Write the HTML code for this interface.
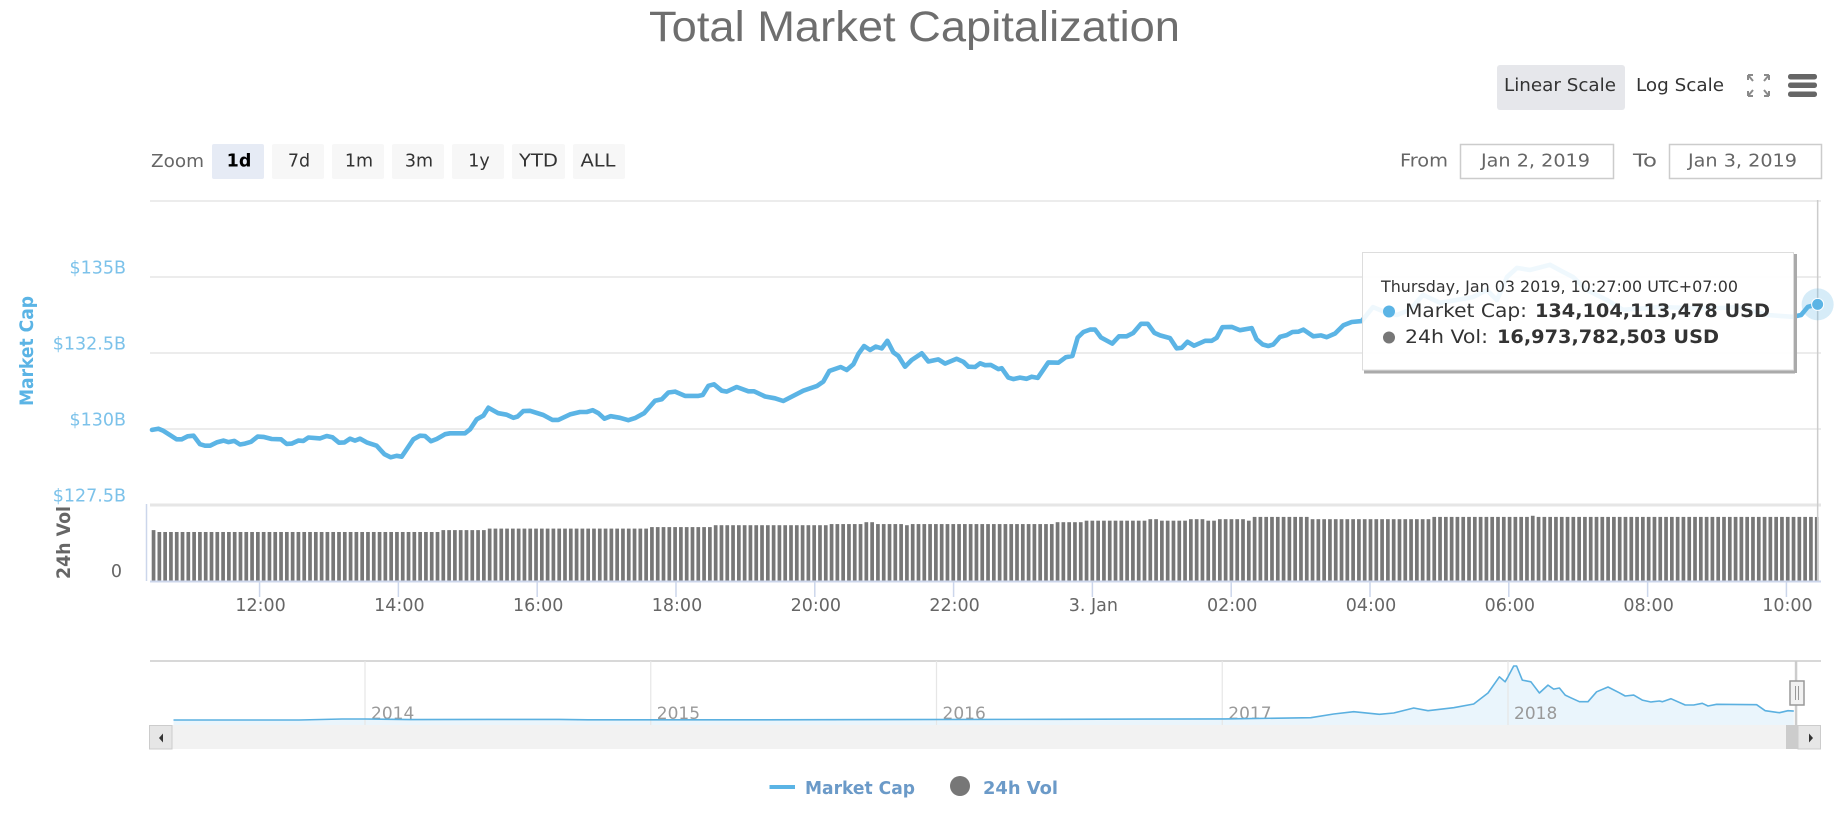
<!DOCTYPE html>
<html lang="en">
<head>
<meta charset="utf-8">
<title>Total Market Capitalization</title>
<style>
  html,body{margin:0;padding:0;background:#fff;}
  body{width:1844px;height:813px;overflow:hidden;}
  svg{display:block;font-family:"DejaVu Sans","Liberation Sans",sans-serif;}
  text{white-space:pre;}
</style>
</head>
<body>
<svg id="chart" xmlns="http://www.w3.org/2000/svg" width="1844" height="813" viewBox="0 0 1844 813">
  <text x="649" y="41" font-family="Liberation Sans, sans-serif" font-size="43" fill="#6e6e6e" textLength="531" lengthAdjust="spacingAndGlyphs">Total Market Capitalization</text>

  <g>
    <rect x="1497" y="65" width="128" height="45" rx="3" fill="#e6e7eb"/>
    <text x="1504" y="91" font-size="17.5" fill="#333333" textLength="112" lengthAdjust="spacingAndGlyphs">Linear Scale</text>
    <text x="1636" y="91" font-size="17.5" fill="#333333" textLength="88" lengthAdjust="spacingAndGlyphs">Log Scale</text>
    <g fill="none" stroke="#8a8a8a" stroke-width="2">
      <path d="M1748 75 L1753 81 M1748 75 h5 M1748 75 v5"/>
      <path d="M1769 75 L1764 81 M1769 75 h-5 M1769 75 v5"/>
      <path d="M1748 96 L1753 90 M1748 96 h5 M1748 96 v-5"/>
      <path d="M1769 96 L1764 90 M1769 96 h-5 M1769 96 v-5"/>
    </g>
    <g fill="#666666">
      <rect x="1788" y="74" width="29" height="5.5" rx="2.5"/>
      <rect x="1788" y="82.5" width="29" height="5.5" rx="2.5"/>
      <rect x="1788" y="91.5" width="29" height="5.5" rx="2.5"/>
    </g>
  </g>

  <g font-size="17.5">
    <text x="151" y="167" fill="#666666" textLength="53" lengthAdjust="spacingAndGlyphs">Zoom</text>
    <rect x="212" y="144" width="52" height="35" rx="2" fill="#e6ebf5"/>
    <text x="239" y="166.5" text-anchor="middle" font-weight="bold" fill="#000000">1d</text>
    <rect x="272" y="144" width="52" height="35" rx="2" fill="#f7f7f7"/>
    <text x="299" y="166.5" text-anchor="middle" fill="#333333">7d</text>
    <rect x="332" y="144" width="52" height="35" rx="2" fill="#f7f7f7"/>
    <text x="359" y="166.5" text-anchor="middle" fill="#333333">1m</text>
    <rect x="392" y="144" width="52" height="35" rx="2" fill="#f7f7f7"/>
    <text x="419" y="166.5" text-anchor="middle" fill="#333333">3m</text>
    <rect x="452" y="144" width="52" height="35" rx="2" fill="#f7f7f7"/>
    <text x="479" y="166.5" text-anchor="middle" fill="#333333">1y</text>
    <rect x="512" y="144" width="53" height="35" rx="2" fill="#f7f7f7"/>
    <text x="538.5" y="166.5" text-anchor="middle" fill="#333333" textLength="39" lengthAdjust="spacingAndGlyphs">YTD</text>
    <rect x="573" y="144" width="52" height="35" rx="2" fill="#f7f7f7"/>
    <text x="598" y="166.5" text-anchor="middle" fill="#333333" textLength="35" lengthAdjust="spacingAndGlyphs">ALL</text>

    <text x="1400" y="166.5" fill="#666666" textLength="48" lengthAdjust="spacingAndGlyphs">From</text>
    <rect x="1460.5" y="144.5" width="153" height="34" fill="#ffffff" stroke="#cccccc" stroke-width="1.5"/>
    <text x="1481" y="166.5" fill="#666666" textLength="109" lengthAdjust="spacingAndGlyphs">Jan 2, 2019</text>
    <text x="1633" y="166.5" fill="#666666" textLength="24" lengthAdjust="spacingAndGlyphs">To</text>
    <rect x="1669.5" y="144.5" width="152" height="34" fill="#ffffff" stroke="#cccccc" stroke-width="1.5"/>
    <text x="1688" y="166.5" fill="#666666" textLength="109" lengthAdjust="spacingAndGlyphs">Jan 3, 2019</text>
  </g>

  <g id="grid-layer"></g>
  <g id="volume-layer"></g>
  <g id="xaxis-layer"></g>
  <g id="line-layer"></g>

  <text transform="translate(33,406) rotate(-90)" font-size="19" font-weight="bold" fill="#5bb4e5" textLength="110" lengthAdjust="spacingAndGlyphs">Market Cap</text>
  <text transform="translate(70,579) rotate(-90)" font-size="19" font-weight="bold" fill="#666666" textLength="73" lengthAdjust="spacingAndGlyphs">24h Vol</text>

  <g id="navigator-layer"></g>

  <g>
    <rect x="149" y="725" width="1672" height="24" fill="#f2f2f2"/>
    <rect x="149.5" y="725.5" width="22.5" height="23.5" fill="#e6e6e6" stroke="#cccccc"/>
    <path d="M159 738 L163 733.5 V742.5 Z" fill="#333333"/>
    <rect x="1786" y="725" width="12" height="24" fill="#cccccc"/>
    <rect x="1798" y="725.5" width="22.5" height="23.5" fill="#e6e6e6" stroke="#cccccc"/>
    <path d="M1813 738 L1809 733.5 V742.5 Z" fill="#333333"/>
  </g>

  <g>
    <rect x="1794.8" y="661" width="2.5" height="64" fill="#cccccc"/>
    <rect x="1790" y="681" width="14" height="24" fill="#f2f2f2" stroke="#999999" stroke-width="1.5"/>
    <path d="M1795.5 686 V700 M1798.5 686 V700" stroke="#999999" stroke-width="1" fill="none"/>
  </g>

  <g>
    <line x1="769.5" y1="787" x2="795" y2="787" stroke="#5bb4e5" stroke-width="4"/>
    <text x="805" y="794" font-size="18" font-weight="bold" fill="#6b9ac8" textLength="110" lengthAdjust="spacingAndGlyphs">Market Cap</text>
    <circle cx="960" cy="786" r="10" fill="#777777"/>
    <text x="983" y="794" font-size="18" font-weight="bold" fill="#6b9ac8" textLength="75" lengthAdjust="spacingAndGlyphs">24h Vol</text>
  </g>

  <g>
    <rect x="1794" y="254" width="3" height="119" fill="#aaaaaa"/>
    <rect x="1364" y="370.5" width="431" height="3" fill="#aaaaaa"/>
    <rect x="1362.5" y="252.5" width="431" height="117.5" fill="#ffffff" fill-opacity="0.9" stroke="#dddddd" stroke-width="1"/>
    <text x="1381" y="292" font-size="16" fill="#333333" textLength="357" lengthAdjust="spacingAndGlyphs">Thursday, Jan 03 2019, 10:27:00 UTC+07:00</text>
    <circle cx="1389" cy="311.5" r="6" fill="#5bb4e5"/>
    <text x="1405" y="317" font-size="19" fill="#333333" textLength="122" lengthAdjust="spacingAndGlyphs">Market Cap:</text>
    <text x="1535" y="317" font-size="19" font-weight="bold" fill="#333333" textLength="235" lengthAdjust="spacingAndGlyphs">134,104,113,478 USD</text>
    <circle cx="1389" cy="337.5" r="6" fill="#777777"/>
    <text x="1405" y="343" font-size="19" fill="#333333" textLength="83" lengthAdjust="spacingAndGlyphs">24h Vol:</text>
    <text x="1497" y="343" font-size="19" font-weight="bold" fill="#333333" textLength="222" lengthAdjust="spacingAndGlyphs">16,973,782,503 USD</text>
  </g>
</svg>

<script>
// ---- data ----
var priceTickValues = [127.5, 130, 132.5, 135, 137.5];
var priceTickLabels = ["$127.5B", "$130B", "$132.5B", "$135B", ""];

var timeTickMinutes = [93, 213, 333, 453, 573, 693, 813, 933, 1053, 1173, 1293, 1413];
var timeTickLabels = ["12:00", "14:00", "16:00", "18:00", "20:00", "22:00", "3. Jan", "02:00", "04:00", "06:00", "08:00", "10:00"];

// minutes since 10:27 on Jan 2
var capMinutes = [0,5.5,9.8,15.6,21.3,25.7,30.8,36,41.5,45.8,50.2,55.9,61.7,66,71.2,76.1,80.4,85.6,91.4,96.3,103.5,111.5,116.4,120.8,126.5,130.8,135.2,145.3,151,155.9,161.7,166.3,171.2,175.5,179.8,185.6,194.2,200.9,206.4,211.5,215.9,226,231.7,236,241.2,246.1,253.3,257.6,270.6,275,280.7,286.5,290.8,299.4,306.6,312.4,316.1,321,326.8,338.3,346.1,351.3,361.4,370,375.8,381,385.9,391.1,396.6,404.6,411.8,417.6,425.4,434.9,440.7,446.4,452.2,460.8,472.4,476.1,481,485.9,492.5,496.9,505.5,515.6,520.5,530,538.6,545.8,563.1,574.7,580.4,585.6,595.4,600.6,606.4,610.7,615.6,620.8,625.7,630.9,635.8,641,645.3,651,656.8,665.5,671.2,679.9,685.6,695.7,701.5,705.8,711.6,715.9,720.2,725.1,731.7,734.6,740.3,744.6,750.4,756.2,760.5,765.7,774.9,783.6,789.9,795.7,800.3,805.2,810.9,815.3,820.4,830.2,836,842.6,848.4,855,860.8,866.6,871.5,880.1,885.9,890.2,895.1,900.9,910.4,916.1,920.5,925.4,933.4,940.6,950.7,955,960.2,965.1,969.4,975.2,981,985.9,991,995.4,1004,1010.7,1015.6,1022.8,1030,1037.2,1045.8,1055.6,1065.9,1076.3,1087.5,1098.8,1113.5,1142,1154.1,1162.8,1171.4,1180,1191.2,1208.6,1219.8,1228.5,1240.6,1257.9,1271.7,1303.7,1329.6,1355.5,1372.8,1396.2,1418.7,1425.7,1431.6,1440];

// market cap, $ billions
var capValues = [129.97,130.01,129.94,129.80,129.66,129.66,129.76,129.78,129.50,129.45,129.45,129.56,129.62,129.57,129.61,129.49,129.52,129.58,129.75,129.74,129.67,129.66,129.51,129.52,129.62,129.61,129.72,129.69,129.77,129.73,129.55,129.56,129.68,129.62,129.68,129.56,129.45,129.17,129.07,129.12,129.09,129.66,129.78,129.77,129.60,129.67,129.83,129.86,129.86,129.99,130.32,130.44,130.70,130.52,130.47,130.37,130.41,130.59,130.60,130.46,130.30,130.30,130.48,130.56,130.56,130.62,130.52,130.34,130.42,130.37,130.29,130.36,130.52,130.93,130.98,131.20,131.23,131.09,131.09,131.12,131.42,131.47,131.26,131.23,131.38,131.24,131.24,131.07,131.01,130.92,131.26,131.41,131.56,131.91,132.04,131.94,132.13,132.47,132.73,132.60,132.71,132.65,132.90,132.52,132.40,132.05,132.27,132.49,132.22,132.29,132.15,132.31,132.21,132.05,132.04,132.16,132.10,132.11,131.97,132.00,131.69,131.64,131.69,131.65,131.72,131.68,132.19,132.18,132.36,132.40,133.01,133.19,133.27,133.27,133.01,132.81,133.05,133.05,133.16,133.46,133.46,133.16,133.08,132.99,132.65,132.67,132.87,132.74,132.90,132.90,133.00,133.35,133.36,133.25,133.32,132.95,132.78,132.73,132.78,133.03,133.09,133.19,133.20,133.27,133.05,133.08,133.02,133.14,133.41,133.52,133.55,134.01,133.85,133.75,133.92,134.41,134.15,134.34,134.57,134.24,135.00,135.30,135.23,135.40,135.17,135.00,134.57,134.24,133.92,134.01,133.98,133.98,134.01,133.75,133.69,133.75,134.02,134.10];

// 24h volume, $ billions, one per 5-minute bar
var volumeValues = [
13.5,13.0,13.0,13.0,13.0,13.0,13.0,13.0,13.0,13.0,
13.0,13.0,13.0,13.0,13.0,13.0,13.0,13.0,13.0,13.0,
13.0,13.0,13.0,13.0,13.0,13.0,13.0,13.0,13.0,13.0,
13.0,13.0,13.0,13.0,13.0,13.0,13.0,13.0,13.0,13.0,
13.0,13.0,13.0,13.0,13.0,13.0,13.0,13.0,13.0,13.0,
13.5,13.5,13.5,13.5,13.5,13.5,13.5,13.5,13.9,13.9,
13.9,13.9,13.9,13.9,13.9,13.9,13.9,13.9,13.9,13.9,
13.9,13.9,13.9,13.9,13.9,13.9,13.9,13.9,13.9,13.9,
13.9,13.9,13.9,13.9,13.9,13.9,14.3,14.3,14.3,14.3,
14.3,14.3,14.3,14.3,14.3,14.3,14.3,14.8,14.8,14.8,
14.8,14.8,14.8,14.8,14.8,14.8,14.8,14.8,14.8,14.8,
14.8,14.8,14.8,14.8,14.8,14.8,14.8,15.1,15.1,15.1,
15.1,15.1,15.1,15.6,15.6,15.1,15.1,15.1,15.1,15.1,
14.8,15.1,15.1,15.1,15.1,15.1,15.1,15.1,15.1,15.1,
15.1,15.1,15.1,15.1,15.1,15.1,15.1,15.1,15.1,15.1,
15.1,15.1,15.1,15.1,15.1,15.1,15.6,15.6,15.6,15.6,
15.6,16.0,16.0,16.0,16.0,16.0,16.0,16.0,16.0,16.0,
16.0,16.0,16.4,16.4,16.0,16.0,16.0,16.0,16.0,16.4,
16.4,16.4,16.0,16.0,16.4,16.4,16.4,16.4,16.4,16.0,
17.0,17.0,17.0,17.0,17.0,17.0,17.0,17.0,17.0,17.0,
16.4,16.4,16.4,16.4,16.4,16.4,16.4,16.4,16.4,16.4,
16.4,16.4,16.4,16.4,16.4,16.4,16.4,16.4,16.4,16.4,
16.4,17.0,17.0,17.0,17.0,17.0,17.0,17.0,17.0,17.0,
17.0,17.0,17.0,17.0,17.0,17.0,17.0,17.0,17.3,17.0,
17.0,17.0,17.0,17.0,17.0,17.0,17.0,17.0,17.0,17.0,
17.0,17.0,17.0,17.0,17.0,17.0,17.0,17.0,17.0,17.0,
17.0,17.0,17.0,17.0,17.0,17.0,17.0,17.0,17.0,17.0,
17.0,17.0,17.0,17.0,17.0,17.0,17.0,17.0,17.0,17.0,
17.0,17.0,17.0,17.0,17.0,17.0,17.0,16.97];

// navigator: long-term history
var navYears = [2013.33,2013.77,2013.92,2014,2014.16,2014.43,2014.68,2014.78,2015.40,2016.42,2017.01,2017.31,2017.39,2017.46,2017.55,2017.60,2017.67,2017.72,2017.81,2017.88,2017.93,2017.97,2017.99,2018.00,2018.02,2018.03,2018.05,2018.08,2018.11,2018.14,2018.16,2018.18,2018.20,2018.22,2018.25,2018.28,2018.31,2018.35,2018.39,2018.41,2018.44,2018.47,2018.50,2018.53,2018.54,2018.57,2018.62,2018.65,2018.68,2018.70,2018.73,2018.87,2018.90,2018.95,2018.98,2019.00];
var navCaps = [1.5,2,16,16,8,10,10,5,5,12,18,35,90,124,86,105,179,139,184,238,401,642,568,642,801,801,593,568,401,519,460,475,371,331,272,272,420,490,405,357,371,297,268,283,272,317,223,223,249,209,234,228,139,110,139,134];
var navTickYears = [2014, 2015, 2016, 2017, 2018];

// ---- axis functions ----
function xTime(m) { return 152 + m * 1.1567; }
function yCap(v) { return 429 - (v - 130) * 30.4; }
function yVol(v) { return 581 - v * 3.77; }
function xBar(i) { return 151.7 + i * 5.795; }
function xNav(y) { return 365 + (y - 2014) * 285.75; }
function yNav(v) { return 720.1 - v * 0.0675; }

var NS = 'http://www.w3.org/2000/svg';
function make(tag, parent, attrs) {
  var el = document.createElementNS(NS, tag);
  for (var k in attrs) el.setAttribute(k, attrs[k]);
  parent.appendChild(el);
  return el;
}

// ---- price grid ----
var gridLayer = document.getElementById('grid-layer');
priceTickValues.forEach(function (v, i) {
  var gy = yCap(v);
  var line = make('line', gridLayer, {x1: 150, x2: 1821, y1: gy, y2: gy, stroke: '#e6e6e6', 'stroke-width': i === 0 ? 3 : 1.6});
  
  
  if (priceTickLabels[i]) {
    var t = make('text', gridLayer, {x: 126, y: gy - 3.5, 'text-anchor': 'end', 'font-size': 17.5, fill: '#7cc2ea'});
    t.textContent = priceTickLabels[i];
    
    
  }
});

// ---- volume bars ----
var volLayer = document.getElementById('volume-layer');
var volAxis = make('line', volLayer, {x1: 146.5, x2: 146.5, y1: 504, y2: 581, stroke: '#ccd6eb', 'stroke-width': 1.5});


var zero = make('text', volLayer, {x: 122, y: 577, 'text-anchor': 'end', 'font-size': 17.5, fill: '#666666'});
zero.textContent = '0';


volumeValues.forEach(function (v, i) {
  var top = yVol(v);
  var bar = make('rect', volLayer, {x: xBar(i), y: top, width: 3.7, height: 581 - top, fill: '#777777'});
  
  
});

// ---- time axis ----
var xLayer = document.getElementById('xaxis-layer');
var xLine = make('line', xLayer, {x1: 150, x2: 1821, y1: 581.5, y2: 581.5, stroke: '#ccd6eb', 'stroke-width': 2});


timeTickMinutes.forEach(function (m, i) {
  var tx = xTime(m);
  var tick = make('line', xLayer, {x1: tx, x2: tx, y1: 582, y2: 597, stroke: '#ccd6eb', 'stroke-width': 1.5});
  
  
  var lab = make('text', xLayer, {x: tx + 1, y: 611, 'text-anchor': 'middle', 'font-size': 17.5, fill: '#666666'});
  lab.textContent = timeTickLabels[i];
  
  
});

// ---- market cap line, crosshair and marker ----
var lineLayer = document.getElementById('line-layer');
var lastX = xTime(capMinutes[capMinutes.length - 1]);
var lastY = yCap(capValues[capValues.length - 1]);
var cross = make('line', lineLayer, {x1: lastX, x2: lastX, y1: 200, y2: 581, stroke: '#cccccc', 'stroke-width': 1.5});


var capPoints = capMinutes.map(function (m, i) { return xTime(m).toFixed(1) + ',' + yCap(capValues[i]).toFixed(1); }).join(' ');
var capLine = make('polyline', lineLayer, {points: capPoints, fill: 'none', stroke: '#5bb4e5', 'stroke-width': 4.6, 'stroke-linejoin': 'round', 'stroke-linecap': 'round'});


var halo = make('circle', lineLayer, {cx: lastX, cy: lastY, r: 16, fill: '#5bb4e5', opacity: 0.25});


var marker = make('circle', lineLayer, {cx: lastX, cy: lastY, r: 6, fill: '#5bb4e5', stroke: '#ffffff', 'stroke-width': 1});



// ---- navigator ----
var navLayer = document.getElementById('navigator-layer');
var navTop = make('line', navLayer, {x1: 150, x2: 1821, y1: 661, y2: 661, stroke: '#cccccc', 'stroke-width': 1.5});


var navPts = navYears.map(function (y, i) { return xNav(y).toFixed(1) + ',' + yNav(navCaps[i]).toFixed(1); });
var navArea = make('polygon', navLayer, {points: xNav(navYears[0]).toFixed(1) + ',725 ' + navPts.join(' ') + ' ' + xNav(navYears[navYears.length - 1]).toFixed(1) + ',725', fill: '#eaf5fc'});


navTickYears.forEach(function (y) {
  var nx = xNav(y);
  var g = make('line', navLayer, {x1: nx, x2: nx, y1: 661, y2: 725, stroke: '#e6e6e6', 'stroke-width': 1.2});
  
  
  var t = make('text', navLayer, {x: nx + 6, y: 719, 'font-size': 17, fill: '#999999'});
  t.textContent = String(y);
  
  
});
var navLine = make('polyline', navLayer, {points: navPts.join(' '), fill: 'none', stroke: '#5bb0e0', 'stroke-width': 1.6, 'stroke-linejoin': 'round'});


</script>
</body>
</html>
